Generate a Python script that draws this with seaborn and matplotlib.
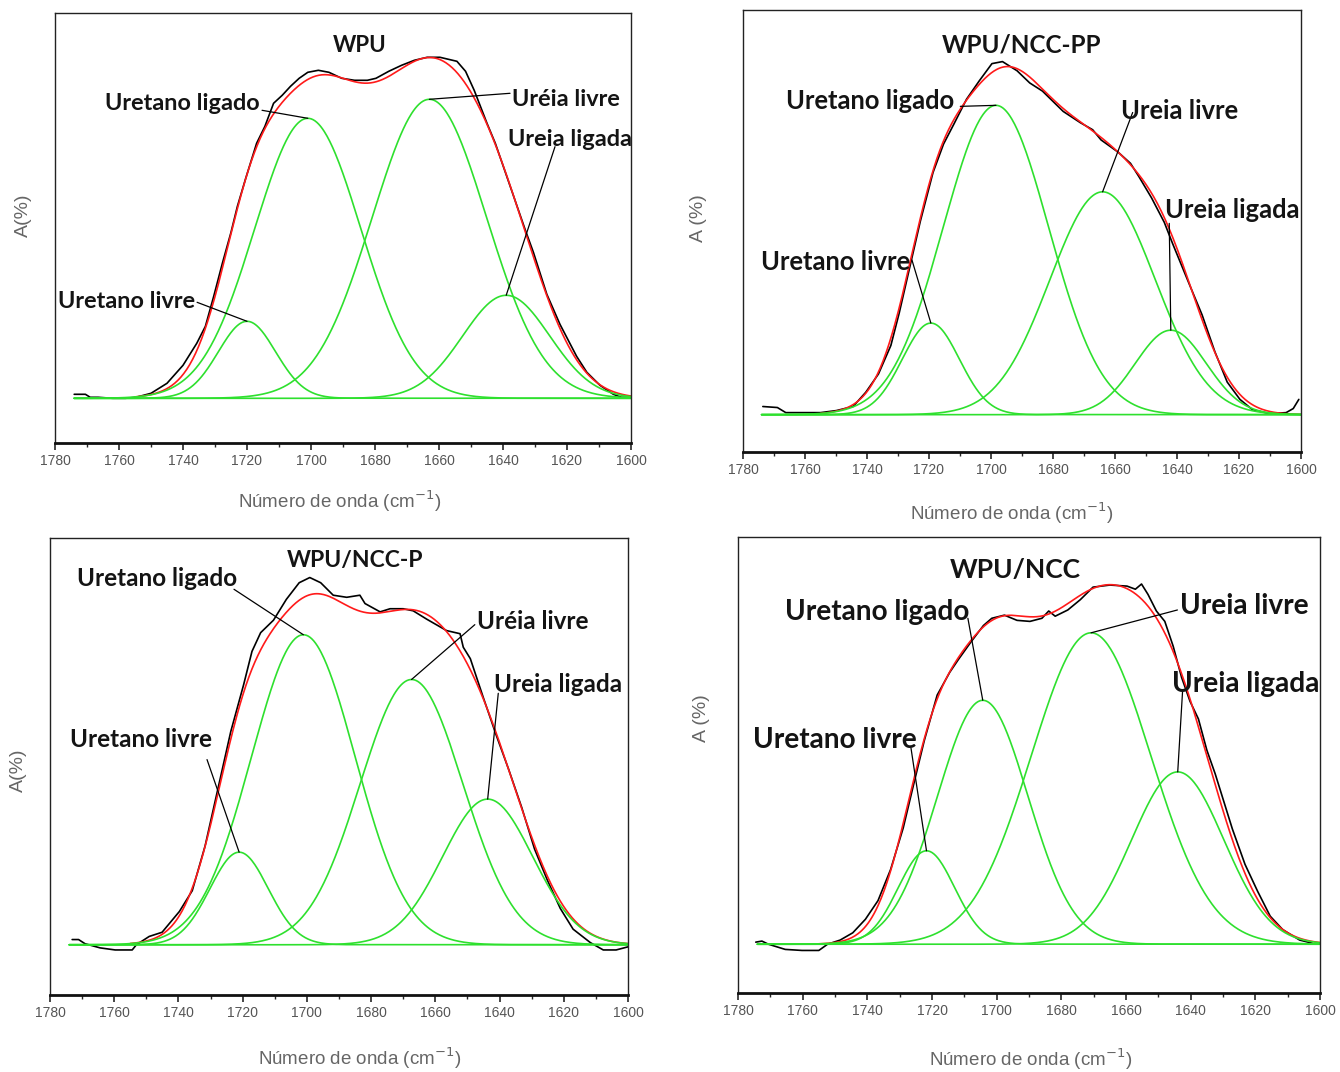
import numpy as np
import pandas as pd
import matplotlib
matplotlib.use("Agg")
import matplotlib.pyplot as plt
import seaborn as sns
from matplotlib.ticker import MultipleLocator

sns.set_style("ticks")
plt.rcParams["font.family"] = ["Liberation Sans", "DejaVu Sans"]

# ---------------- data ----------------
# band components: Uretano livre, Uretano ligado, Ureia livre, Ureia ligada
wpu_centers = [1720.0, 1701.0, 1663.0, 1639.0]
wpu_heights = [77, 280, 299, 103]
wpu_fwhm = [21, 39, 42, 32]
wpu_obs_wn = [1774, 1770.5, 1769, 1766.5, 1762, 1758, 1754.7, 1750, 1745, 1740, 1735.7, 1733,
              1730.4, 1727.7, 1725, 1723, 1720.4, 1717, 1714.4, 1711.7, 1709, 1706.4, 1703.7,
              1701, 1697.7, 1694.4, 1690.4, 1686.4, 1682.4, 1679.7, 1675.7, 1671.7, 1667.7,
              1663.7, 1659.7, 1654.4, 1651.7, 1649, 1645, 1642.4, 1638.4, 1633, 1630.5, 1626.3,
              1622.2, 1617, 1613.8, 1609.7, 1605.5, 1603, 1600]
wpu_obs_a = [4, 4, 1, 1, 0, 0, 1, 5, 15, 33, 55, 72, 102, 135, 166, 192, 220, 255, 272, 295,
             303, 312, 320, 326, 328, 326, 320, 318, 318, 320, 327, 333, 338, 341, 341, 337,
             327, 308, 275, 255, 218, 168, 146, 104, 74, 42, 26, 13, 4, 1, 1]

pp_centers = [1719.4, 1698.4, 1664.0, 1642.0]
pp_heights = [90, 304, 219, 83]
pp_fwhm = [21.7, 40, 40, 27]
pp_obs_wn = [1773.6, 1768.9, 1766.2, 1760.1, 1755, 1749.9, 1744.5, 1740.4, 1736.3, 1732.3,
             1729.6, 1726.2, 1722.8, 1718.7, 1715.3, 1711.9, 1707.9, 1703.8, 1699.7, 1696.3,
             1691.6, 1687.5, 1683.4, 1676.7, 1671.2, 1667.2, 1664.5, 1659.0, 1655, 1652.3,
             1648.2, 1644.1, 1641.4, 1638.7, 1636, 1631.9, 1627.8, 1623.8, 1619.7, 1615.7,
             1610.2, 1604.8, 1602.5, 1600.7]
pp_obs_a = [8, 7, 2, 2, 2, 4, 8, 22, 40, 68, 100, 145, 190, 238, 266, 286, 310, 328, 345, 347,
            338, 326, 318, 298, 287, 280, 270, 258, 247, 234, 213, 189, 168, 148, 128, 98, 62,
            32, 15, 5, 1, 2, 6, 15]

p_centers = [1721.1, 1701.1, 1667.4, 1643.7]
p_heights = [89, 298, 255, 140]
p_fwhm = [21.4, 38, 37.7, 33]
p_obs_wn = [1773.1, 1771.1, 1769.1, 1764.4, 1759.7, 1754.4, 1753.1, 1749.1, 1745.1, 1739.7,
            1735.7, 1731.7, 1727.7, 1723.7, 1719.7, 1717.1, 1714.4, 1710.4, 1706.4, 1702.4,
            1699.1, 1695.7, 1691.8, 1687.6, 1683.5, 1681.9, 1677.2, 1674.1, 1670.0, 1666.9,
            1662.7, 1656.5, 1652.3, 1651.3, 1649.1, 1645.1, 1641.1, 1637.1, 1633.1, 1629.1,
            1625.1, 1621.1, 1617.1, 1611.7, 1607.7, 1603.7, 1600]
p_obs_a = [5, 5, 1, -3, -5, -5, 0, 8, 12, 32, 52, 95, 150, 205, 250, 282, 300, 312, 332, 348,
           353, 348, 336, 334, 336, 328, 320, 323, 323, 321, 313, 302, 299, 286, 275, 238, 202,
           168, 132, 92, 62, 35, 15, 2, -5, -5, -2]

ncc_centers = [1721.7, 1704.3, 1670.8, 1644.0]
ncc_heights = [90, 235, 300, 166]
ncc_fwhm = [20.5, 33, 43.5, 33.6]
ncc_obs_wn = [1774.5, 1772.6, 1770.6, 1765.4, 1760.2, 1755, 1752.3, 1748.4, 1744.5, 1740.6,
              1736.7, 1732.8, 1728.9, 1725.6, 1722.4, 1718.4, 1714.5, 1711.9, 1708, 1704.1,
              1701.5, 1697.6, 1693.7, 1689.7, 1686, 1683.9, 1681.9, 1678, 1674.1, 1670.2, 1665,
              1659.7, 1657.1, 1655.2, 1653.2, 1650.6, 1648, 1645.4, 1642.8, 1640.2, 1637.6,
              1635, 1632.4, 1629.7, 1627.1, 1623.2, 1619.3, 1615.4, 1611.5, 1606.3, 1602.4]
ncc_obs_a = [2, 3, 0, -5, -6, -6, 0, 4, 11, 24, 42, 72, 112, 155, 196, 240, 262, 274, 291, 307,
             314, 317, 312, 311, 314, 321, 316, 322, 332, 344, 346, 345, 342, 347, 337, 321, 311,
             287, 257, 234, 217, 187, 164, 137, 111, 77, 51, 27, 14, 4, 1]

xticks_major = [1780, 1760, 1740, 1720, 1700, 1680, 1660, 1640, 1620, 1600]

# ---------------- layout ----------------
panels = [
    dict(title="WPU", centers=wpu_centers, heights=wpu_heights, fwhm=wpu_fwhm,
         obs_wn=wpu_obs_wn, obs_a=wpu_obs_a,
         rect=[55/1340, 1-443/1072, 576/1340, 430/1072], ylim=(-44.7, 385.3),
         title_xy=(1684.7, 353), tfs=16, fs=16.9,
         names=["Uretano livre", "Uretano ligado", "Uréia livre", "Ureia ligada"],
         text_xy=[(1736.3, 97), (1715.9, 295), (1637.2, 299), (1638.4, 259)],
         line_xy=[(1735.6, 96), (1715.3, 288), (1637.8, 305), (1623.75, 251.6)],
         ha=["right", "right", "left", "left"],
         ylabel="A(%)", ylab_xy=(-0.04, 0.53), xlab_xy=(0.495, -0.105)),
    dict(title="WPU/NCC-PP", centers=pp_centers, heights=pp_heights, fwhm=pp_fwhm,
         obs_wn=pp_obs_wn, obs_a=pp_obs_a,
         rect=[743/1340, 1-452/1072, 558/1340, 442/1072], ylim=(-36.7, 397.7),
         title_xy=(1690.2, 363), tfs=17.5, fs=18.4,
         names=["Uretano livre", "Uretano ligado", "Ureia livre", "Ureia ligada"],
         text_xy=[(1726.2, 150), (1711.7, 308), (1658, 298), (1643.9, 201)],
         line_xy=[(1725.5, 152), (1709.9, 303), (1654.3, 297), (1642.5, 188)],
         ha=["right", "right", "left", "left"],
         ylabel="A (%)", ylab_xy=(-0.0645, 0.529), xlab_xy=(0.482, -0.11)),
    dict(title="WPU/NCC-P", centers=p_centers, heights=p_heights, fwhm=p_fwhm,
         obs_wn=p_obs_wn, obs_a=p_obs_a,
         rect=[50/1340, 1-995/1072, 578/1340, 457/1072], ylim=(-48.3, 391),
         title_xy=(1685, 369), tfs=16.5, fs=17.5,
         names=["Uretano livre", "Uretano ligado", "Uréia livre", "Ureia ligada"],
         text_xy=[(1729.5, 197), (1721.7, 351.7), (1647, 311), (1641.7, 250)],
         line_xy=[(1731.1, 178), (1722.7, 341.7), (1647.7, 307.7), (1640.4, 241.7)],
         ha=["right", "right", "left", "left"],
         ylabel="A(%)", ylab_xy=(-0.0398, 0.492), xlab_xy=(0.536, -0.11)),
    dict(title="WPU/NCC", centers=ncc_centers, heights=ncc_heights, fwhm=ncc_fwhm,
         obs_wn=ncc_obs_wn, obs_a=ncc_obs_a,
         rect=[738/1340, 1-993/1072, 582/1340, 456/1072], ylim=(-47, 392.3),
         title_xy=(1694.3, 360.7), tfs=19, fs=20.2,
         names=["Uretano livre", "Uretano ligado", "Ureia livre", "Ureia ligada"],
         text_xy=[(1724.7, 197), (1708.3, 320), (1643.4, 325.7), (1645.7, 250.7)],
         line_xy=[(1726.5, 189), (1708.9, 314), (1644.1, 322), (1642.5, 244)],
         ha=["right", "right", "left", "left"],
         ylabel="A (%)", ylab_xy=(-0.048, 0.603), xlab_xy=(0.502, -0.118)),
]

GREEN = "#2ee02e"
LABEL_FONT = ["Lato", "DejaVu Sans"]


def band(x, c, h, w):
    s = w / 2.3548
    return h * np.exp(-0.5 * ((x - c) / s) ** 2)


x_comp = np.linspace(1774, 1600, 600)
x_sum = np.linspace(1755, 1600, 500)

fig = plt.figure(figsize=(13.4, 10.72), dpi=100)

for p in panels:
    ax = fig.add_axes(p["rect"])
    ax.set_xlim(1780, 1600)
    ax.set_ylim(*p["ylim"])

    obs = pd.DataFrame({"wn": p["obs_wn"], "a": p["obs_a"]})
    sns.lineplot(data=obs, x="wn", y="a", ax=ax, color="black", lw=1.2,
                 estimator=None, sort=False)

    total = np.zeros_like(x_sum)
    comps = []
    for c, h, w in zip(p["centers"], p["heights"], p["fwhm"]):
        total += band(x_sum, c, h, w)
        comps.append(band(x_comp, c, h, w))
    sns.lineplot(x=x_sum, y=total, ax=ax, color="#ff1a1a", lw=1.2)
    for comp in comps:
        sns.lineplot(x=x_comp, y=comp, ax=ax, color=GREEN, lw=1.2)

    # annotations
    for name, (tx, ty), (lx, ly), ha, c, h in zip(p["names"], p["text_xy"], p["line_xy"],
                                                  p["ha"], p["centers"], p["heights"]):
        ax.plot([lx, c], [ly, h], color="black", lw=0.9)
        ax.text(tx, ty, name, ha=ha, va="center", fontsize=p["fs"], fontweight="bold",
                family=LABEL_FONT, color="#141414")
    ax.text(p["title_xy"][0], p["title_xy"][1], p["title"], ha="center", va="center",
            fontsize=p["tfs"], fontweight="bold", family=LABEL_FONT, color="#141414")

    # axes styling
    ax.set_xticks(xticks_major)
    ax.xaxis.set_minor_locator(MultipleLocator(10))
    ax.tick_params(axis="x", which="major", direction="out", length=5, width=1.2,
                   labelsize=10, labelcolor="#555555", pad=3)
    ax.tick_params(axis="x", which="minor", direction="out", length=3, width=1.0)
    ax.set_yticks([])
    for side in ["left", "right", "top"]:
        ax.spines[side].set_linewidth(1.0)
        ax.spines[side].set_color("#222222")
    ax.spines["bottom"].set_linewidth(2.0)
    ax.spines["bottom"].set_color("#111111")

    ax.set_xlabel("Número de onda (cm$^{-1}$)", fontsize=13.5, color="#666666")
    ax.xaxis.set_label_coords(*p["xlab_xy"])
    ax.set_ylabel(p["ylabel"], fontsize=14, color="#666666")
    ax.yaxis.set_label_coords(*p["ylab_xy"])

fig.savefig("out.png", dpi=100)
